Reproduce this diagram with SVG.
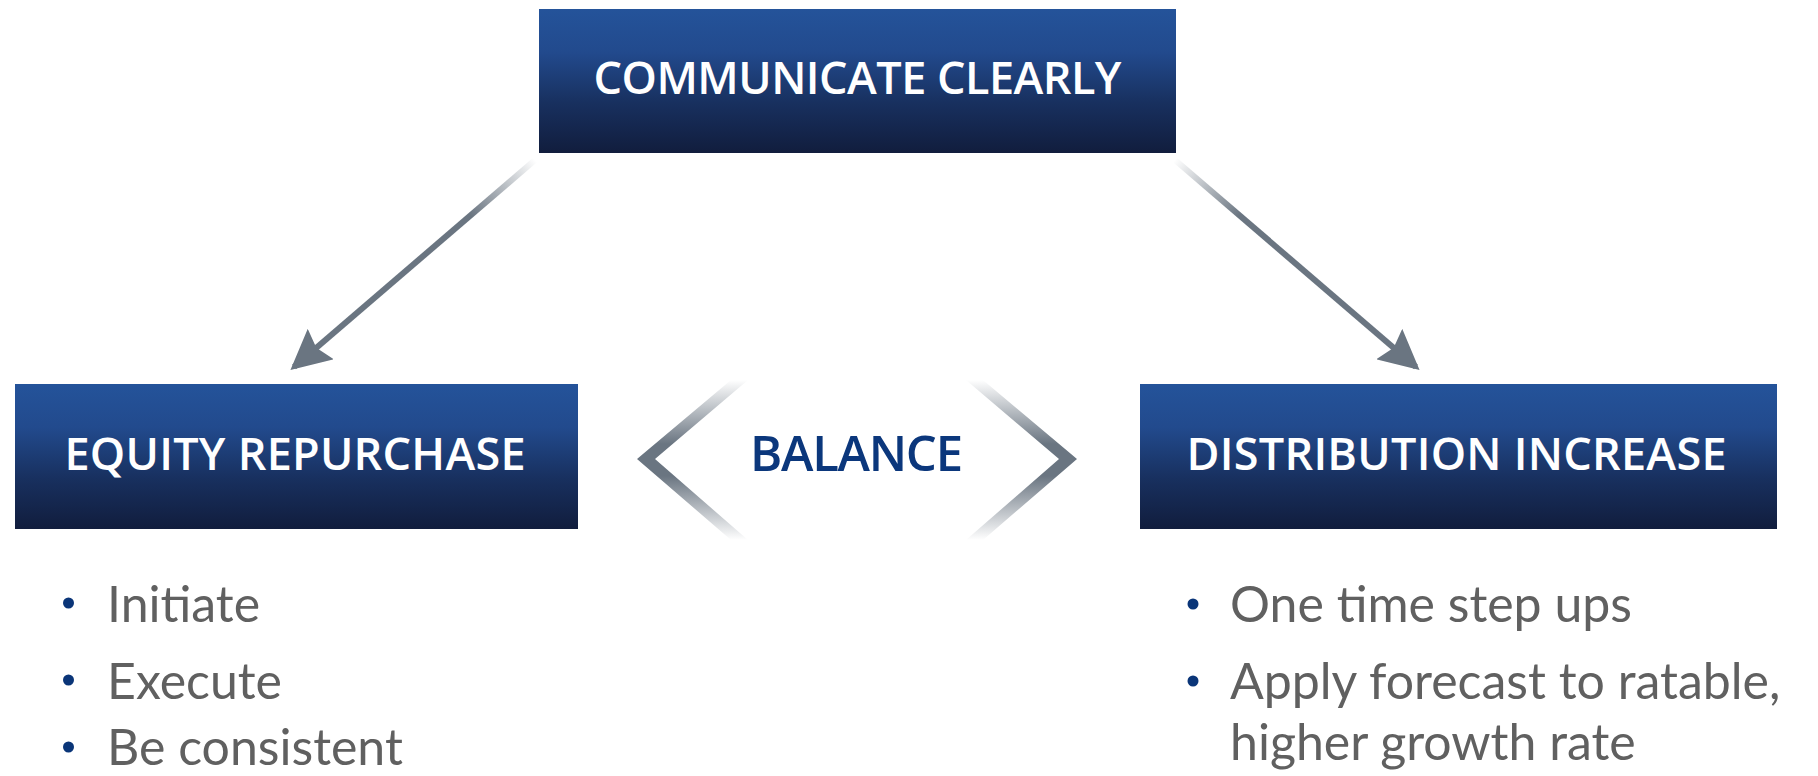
<svg xmlns="http://www.w3.org/2000/svg" width="1818" height="776" viewBox="0 0 1818 776">
<style>
.box{fill:url(#boxGrad)}
.hdr{font-family:"Open Sans",Lato,"Liberation Sans",sans-serif;font-weight:600;font-size:45px;fill:#ffffff;text-anchor:middle}
.bal{font-family:"Open Sans",Lato,"Liberation Sans",sans-serif;font-weight:600;font-size:49px;fill:#0b377c;text-anchor:middle}
.bul{font-family:Lato,"Open Sans","Liberation Sans",sans-serif;font-weight:400;font-size:50px;fill:#606060}
.dot{fill:#0a3578}
.shaft{stroke-width:6;fill:none}
</style>
<defs>
<linearGradient id="boxGrad" x1="0" y1="0" x2="0" y2="1">
<stop offset="0" stop-color="#24539a"/>
<stop offset="0.3" stop-color="#224a8d"/>
<stop offset="0.65" stop-color="#18305f"/>
<stop offset="1" stop-color="#111d3d"/>
</linearGradient>
<linearGradient id="gL" gradientUnits="userSpaceOnUse" x1="535" y1="160" x2="305" y2="358">
<stop offset="0" stop-color="#6a7581" stop-opacity="0"/>
<stop offset="0.28" stop-color="#6a7581" stop-opacity="1"/>
<stop offset="1" stop-color="#6a7581" stop-opacity="1"/>
</linearGradient>
<linearGradient id="gR" gradientUnits="userSpaceOnUse" x1="1175" y1="160" x2="1405" y2="358">
<stop offset="0" stop-color="#6a7581" stop-opacity="0"/>
<stop offset="0.28" stop-color="#6a7581" stop-opacity="1"/>
<stop offset="1" stop-color="#6a7581" stop-opacity="1"/>
</linearGradient>
<linearGradient id="gChev" gradientUnits="userSpaceOnUse" x1="0" y1="380" x2="0" y2="540">
<stop offset="0" stop-color="#6a7581" stop-opacity="0"/>
<stop offset="0.4" stop-color="#6a7581" stop-opacity="1"/>
<stop offset="0.6" stop-color="#6a7581" stop-opacity="1"/>
<stop offset="1" stop-color="#6a7581" stop-opacity="0"/>
</linearGradient>
<marker id="ah" markerUnits="userSpaceOnUse" markerWidth="40" markerHeight="40" viewBox="0 0 34 34" refX="30" refY="17" orient="auto">
<path d="M0,0 L34,17 L0,34 L5,17 Z" fill="#6a7581"/>
</marker>
</defs>

<g id="connectors">
<line class="shaft" x1="535" y1="160" x2="294" y2="367" stroke="url(#gL)" marker-end="url(#ah)"/>
<line class="shaft" x1="1175" y1="160" x2="1416" y2="367" stroke="url(#gR)" marker-end="url(#ah)"/>
</g>

<g id="node-communicate">
<rect class="box" x="539" y="9" width="637" height="144"/>
<text class="hdr" x="857.5" y="94" textLength="528">COMMUNICATE CLEARLY</text>
</g>

<g id="node-equity">
<rect class="box" x="15" y="384" width="563" height="145"/>
<text class="hdr" x="295" y="470" textLength="461">EQUITY REPURCHASE</text>
</g>

<g id="node-distribution">
<rect class="box" x="1140" y="384" width="637" height="145"/>
<text class="hdr" x="1456.5" y="470" textLength="540">DISTRIBUTION INCREASE</text>
</g>

<g id="node-balance">
<polygon points="731,380 637,459 731,540 748,540 655,459 748,380" fill="url(#gChev)"/>
<polygon points="983,380 1077,459 983,540 966,540 1059,459 966,380" fill="url(#gChev)"/>
<text class="bal" x="856.5" y="471" textLength="213">BALANCE</text>
</g>

<g id="list-equity">
<circle class="dot" cx="68.5" cy="603" r="5.5"/>
<text class="bul" x="107" y="622">Initiate</text>
<circle class="dot" cx="68.5" cy="680" r="5.5"/>
<text class="bul" x="107" y="699">Execute</text>
<circle class="dot" cx="68.5" cy="747" r="5.5"/>
<text class="bul" x="107" y="765">Be consistent</text>
</g>

<g id="list-distribution">
<circle class="dot" cx="1193" cy="604" r="5.5"/>
<text class="bul" x="1230" y="622">One time step ups</text>
<circle class="dot" cx="1193" cy="681" r="5.5"/>
<text class="bul" x="1230" y="699">Apply forecast to ratable,</text>
<text class="bul" x="1230" y="760">higher growth rate</text>
</g>
</svg>
